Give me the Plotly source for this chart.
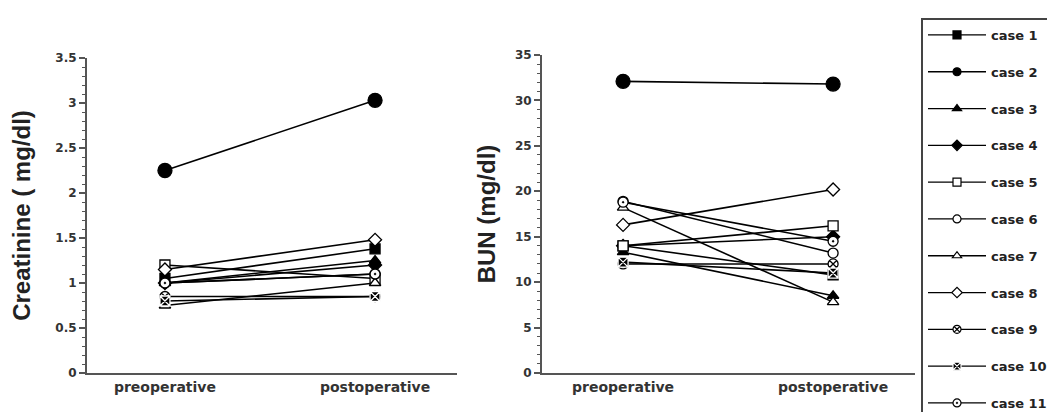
import plotly.graph_objects as go

cases = [f"case {i}" for i in range(1, 12)]
periods = ["preoperative", "postoperative"]
creat_pre = [1.05, 2.25, 1.00, 1.00, 1.20, 1.00, 0.75, 1.15, 0.85, 0.80, 1.00]
creat_post = [1.38, 3.03, 1.25, 1.20, 1.05, 1.10, 1.00, 1.48, 0.85, 0.85, 1.10]
bun_pre = [14.0, 32.1, 13.3, 14.0, 14.0, 18.9, 18.2, 16.3, 12.0, 12.2, 18.8]
bun_post = [10.8, 31.8, 8.5, 15.0, 16.2, 13.2, 7.8, 20.2, 12.0, 11.0, 14.5]

symbols = ['square', 'circle', 'triangle-up', 'diamond', 'square', 'circle',
           'triangle-up', 'diamond', 'circle-x', 'square-x', 'circle-dot']
fills = ['black', 'black', 'black', 'black', 'white', 'white',
         'white', 'white', 'white', 'black', 'white']
lines_c = ['black', 'black', 'black', 'black', 'black', 'black',
           'black', 'black', 'black', 'white', 'black']
sizes = [10, 14, 10, 10, 10, 10, 10, 10, 10, 10, 10]

FONT = "Liberation Sans, Arial, Helvetica, sans-serif"
WIDE = "DejaVu Sans, Verdana, sans-serif"

fig = go.Figure()
for i, c in enumerate(cases):
    mk = dict(symbol=symbols[i], size=sizes[i], color=fills[i],
              line=dict(color=lines_c[i], width=1.3))
    fig.add_trace(go.Scatter(x=periods, y=[creat_pre[i], creat_post[i]], mode='lines+markers',
                             name=c, legendgroup=c, showlegend=False, marker=mk,
                             line=dict(color='black', width=1.6), xaxis='x', yaxis='y'))
    fig.add_trace(go.Scatter(x=periods, y=[bun_pre[i], bun_post[i]], mode='lines+markers',
                             name=c, legendgroup=c, showlegend=False, marker=mk,
                             line=dict(color='black', width=1.6), xaxis='x2', yaxis='y2'))
    # legend-only entry with smaller marker
    fig.add_trace(go.Scatter(x=[None], y=[None], mode='lines+markers', name=c, legendgroup=c,
                             showlegend=True,
                             marker=dict(symbol=symbols[i], size=8, color=fills[i],
                                         line=dict(color=lines_c[i], width=1.2)),
                             line=dict(color='black', width=1.3), xaxis='x', yaxis='y'))

# page body has an 8px margin, so the figure is offset by 8px on screen
OFF = 8
W, H = 1055 - OFF, 412 - OFF
def px_x(a, b):
    return [(a - OFF) / W, (b - OFF) / W]
def px_y(top, bottom):
    return [(H - (bottom - OFF)) / H, (H - (top - OFF)) / H]

axis_common = dict(showline=True, linecolor='#555', linewidth=2, showgrid=False,
                   zeroline=False, automargin=False)
xaxis_common = dict(axis_common, type='category', ticks='',
                    tickfont=dict(family=WIDE, size=14, color='#333', weight='bold'))
yaxis_common = dict(axis_common, ticks='outside', ticklen=6, tickwidth=1.5, tickcolor='#555',
                    tickfont=dict(family=WIDE, size=12, color='#333', weight='bold'),
                    title_font=dict(family=FONT, size=24, color='#222', weight='bold'))

fig.update_layout(
    width=W, height=H,
    margin=dict(l=0, r=0, t=0, b=0, autoexpand=False),
    plot_bgcolor='white', paper_bgcolor='white',
    showlegend=True,
    xaxis=dict(xaxis_common, domain=px_x(87, 457), range=[-0.371, 1.39], anchor='y'),
    yaxis=dict(yaxis_common, domain=px_y(58, 373), range=[0, 3.5], dtick=0.5,
               tickformat='~g', anchor='x',
               minor=dict(dtick=0.1, ticks='outside', ticklen=3, tickcolor='#555', tickwidth=1),
               title=dict(text='Creatinine ( mg/dl)', standoff=20)),
    xaxis2=dict(xaxis_common, domain=px_x(542, 915), range=[-0.386, 1.39], anchor='y2'),
    yaxis2=dict(yaxis_common, domain=px_y(55, 373), range=[0, 35], dtick=5, anchor='x2',
                minor=dict(dtick=1, ticks='outside', ticklen=3, tickcolor='#555', tickwidth=1),
                title=dict(text='BUN (mg/dl)', standoff=12)),
    legend=dict(x=(921 - OFF) / W, y=1 - (18 - OFF) / H, xanchor='left', yanchor='top',
                bordercolor='#444', borderwidth=2, bgcolor='white',
                font=dict(family=WIDE, size=13, color='#222', weight='bold'),
                tracegroupgap=16.9, itemwidth=58, maxheight=700),
)

fig.write_html("out.html")
